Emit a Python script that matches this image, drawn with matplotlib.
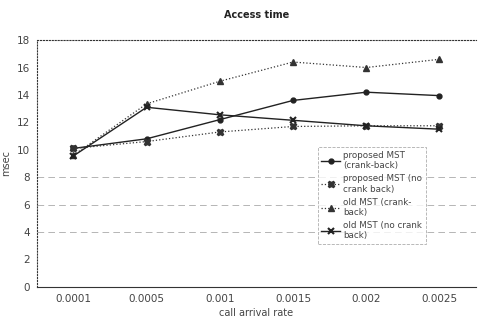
import matplotlib.pyplot as plt
import numpy as np

# Werte
raten = ["0.0001", "0.0005", "0.001", "0.0015", "0.002", "0.0025"]
prop_crank = [10.1, 10.8, 12.2, 13.6, 14.2, 13.95]
prop_no_crank = [10.1, 10.6, 11.3, 11.7, 11.75, 11.75]
old_crank = [9.6, 13.35, 15.0, 16.4, 16.0, 16.6]
old_no_crank = [9.55, 13.1, 12.55, 12.15, 11.75, 11.5]

y_ticks = [0, 2, 4, 6, 8, 10, 12, 14, 16, 18]
grid_levels = [4, 6, 8]

fig = plt.figure(figsize=(4.78, 3.26), dpi=100)
ax = fig.add_axes([0.077, 0.12, 0.919, 0.757])

x = np.arange(len(raten))
ax.plot(x, prop_crank, color='#222222', lw=1.0, marker='o', ms=3.5,
        label='proposed MST\n(crank-back)')
ax.plot(x, prop_no_crank, color='#333333', lw=0.9, ls=':', marker='X', ms=4.5,
        label='proposed MST (no\ncrank back)')
ax.plot(x, old_crank, color='#333333', lw=0.9, ls=':', marker='^', ms=4,
        label='old MST (crank-\nback)')
ax.plot(x, old_no_crank, color='#222222', lw=1.0, marker='x', ms=4.5, mew=1.5,
        label='old MST (no crank\nback)')

# Raster nur dort, wo es im Bild sichtbar ist
for g in grid_levels:
    ax.axhline(g, color='#aaaaaa', lw=0.6, ls=(0, (8, 5)), zorder=0)

ax.set_xlim(-0.5, len(raten) - 0.5)
ax.set_ylim(0, 18)
ax.set_xticks(x)
ax.set_xticklabels(raten)
ax.set_yticks(y_ticks)
ax.tick_params(length=0, labelsize=7.5, labelcolor='#444444', pad=5)

ax.spines['left'].set_linestyle(':')
ax.spines['top'].set_linestyle(':')
ax.spines['right'].set_visible(False)
for s in ['left', 'top', 'bottom']:
    ax.spines[s].set_color('#333333')
    ax.spines[s].set_linewidth(0.8)

ax.set_xlabel("call arrival rate", fontsize=7, color='#444444', labelpad=3)
ax.set_ylabel("msec", fontsize=7, color='#444444', labelpad=4)
ax.set_title("Access time", fontsize=7, fontweight='bold', color='#222222', pad=16)

leg = ax.legend(loc='center right', bbox_to_anchor=(0.895, 0.37), fontsize=6.3,
                frameon=True, fancybox=False, handlelength=2.2, labelspacing=0.45,
                borderpad=0.4, handletextpad=0.3)
leg.get_frame().set_edgecolor('#999999')
leg.get_frame().set_linestyle('--')
leg.get_frame().set_linewidth(0.6)
for t in leg.get_texts():
    t.set_color('#444444')

plt.savefig("out.png", dpi=100)
